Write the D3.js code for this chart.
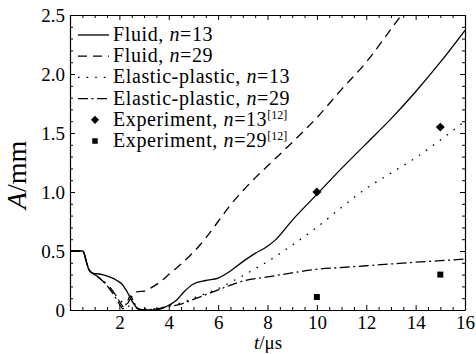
<!DOCTYPE html>
<html><head><meta charset="utf-8">
<script src="https://cdn.jsdelivr.net/npm/d3@7"></script>
<style>
body{margin:0;background:#fff}
svg{display:block}
</style></head>
<body><svg id="c" width="476" height="354"></svg>
<script>
// ---- data ----
const tFluid13 = [0,0.5,0.55,0.65,0.75,0.85,0.95,1.2,1.6,1.9,2.1,2.3,2.5,2.7,2.85,3.2,3.6,3.8,4.0,4.3,4.6,5.0,5.5,6.0,6.5,7.0,7.5,8.0,8.3,9,10,11,12,13,14,15,16];
const aFluid13 = [0.5,0.5,0.49,0.42,0.35,0.32,0.31,0.305,0.28,0.25,0.22,0.16,0.08,0.02,0.005,0,0.005,0.02,0.04,0.08,0.15,0.22,0.25,0.27,0.33,0.41,0.48,0.54,0.59,0.76,0.98,1.2,1.41,1.62,1.85,2.1,2.37];

const tFluid29 = [0,0.5,0.55,0.65,0.75,0.85,1.0,1.1,1.3,1.5,1.7,1.9,2.1,2.2,2.4,2.6,2.75,3.0,3.3,3.6,4.0,4.5,5.0,5.5,6.0,6.5,7.0,7.5,8,9,10,11,12,13,13.6];
const aFluid29 = [0.5,0.5,0.49,0.42,0.35,0.32,0.305,0.29,0.25,0.22,0.17,0.11,0.04,0.02,0.08,0.14,0.155,0.16,0.19,0.23,0.3,0.39,0.49,0.61,0.75,0.89,1.01,1.12,1.22,1.42,1.63,1.87,2.1,2.38,2.55];

const tEP13 = [0,0.5,0.55,0.65,0.75,0.85,1.0,1.2,1.4,1.6,1.8,2.0,2.2,2.4,2.6,3.0,3.5,4.0,4.5,5.0,5.5,6.0,6.5,7.0,7.5,8,9,10,11,12,13,14,15,16];
const aEP13 = [0.5,0.5,0.49,0.42,0.35,0.32,0.3,0.27,0.23,0.19,0.14,0.09,0.05,0.03,0.02,0.01,0.01,0.04,0.06,0.1,0.14,0.18,0.235,0.29,0.35,0.41,0.55,0.7,0.87,1.03,1.16,1.29,1.44,1.6];

const tEP29 = [0,0.5,0.55,0.65,0.75,0.85,1.0,1.2,1.4,1.6,1.8,2.0,2.15,2.3,2.45,2.6,2.75,3.0,3.5,4.0,4.5,5.0,5.5,6.0,6.5,7.0,8,9,10,11,12,13,14,15,16];
const aEP29 = [0.5,0.5,0.49,0.42,0.35,0.32,0.3,0.27,0.23,0.18,0.12,0.05,0.01,0.06,0.12,0.06,0.01,0,0.01,0.03,0.05,0.09,0.13,0.17,0.21,0.245,0.28,0.315,0.345,0.36,0.375,0.39,0.405,0.418,0.432];

const tExp = [10, 15];
const aExp13 = [1.0, 1.55];
const aExp29 = [0.11, 0.30];

const xTicks = [2,4,6,8,10,12,14,16];
const yTicks = [0,0.5,1.0,1.5,2.0,2.5];
const yTickLabels = ["0","0.5","1.0","1.5","2.0","2.5"];

const legendNames = ["Fluid, ","Fluid, ","Elastic-plastic, ","Elastic-plastic, ","Experiment, ","Experiment, "];
const legendN = ["13","29","13","29","13","29"];
const legendRef = ["","","","","[12]","[12]"];

// ---- drawing ----
const FONT = "'Liberation Serif','Times New Roman','DejaVu Serif',serif";
const svg = d3.select("#c");
const x = d3.scaleLinear().domain([0,16]).range([70,465]);
const y = d3.scaleLinear().domain([0,2.5]).range([310,15]);

svg.append("defs").append("clipPath").attr("id","clip")
  .append("rect").attr("x",70).attr("y",15).attr("width",395).attr("height",295);

function styleAxis(g){
  g.attr("font-family",null).attr("font-size",null);
  g.select(".domain").attr("stroke","#000").attr("stroke-width",1.2);
  g.selectAll(".tick line").attr("stroke","#000").attr("stroke-width",1);
  g.selectAll("text").style("font-family",FONT).style("font-size","19px").attr("fill","#000");
}
const xMinor = d3.range(0.5,16,0.5).filter(v=>v%2!==0);
const yMinor = d3.range(1,25).map(i=>i/10).filter(v=>Math.abs(v*2-Math.round(v*2))>1e-6);

// bottom
svg.append("g").attr("transform","translate(0,310)")
  .call(d3.axisBottom(x).tickValues(xTicks).tickFormat(d3.format("d")).tickSizeInner(-5).tickSizeOuter(0).tickPadding(6))
  .call(styleAxis);
svg.append("g").attr("transform","translate(0,310)")
  .call(d3.axisBottom(x).tickValues(xMinor).tickFormat("").tickSizeInner(-3).tickSizeOuter(0))
  .call(styleAxis).call(g=>g.select(".domain").remove());
// top
svg.append("g").attr("transform","translate(0,15)")
  .call(d3.axisTop(x).tickValues(xTicks).tickFormat("").tickSizeInner(-5).tickSizeOuter(0))
  .call(styleAxis);
svg.append("g").attr("transform","translate(0,15)")
  .call(d3.axisTop(x).tickValues(xMinor).tickFormat("").tickSizeInner(-3).tickSizeOuter(0))
  .call(styleAxis).call(g=>g.select(".domain").remove());
// left
svg.append("g").attr("transform","translate(70,0)")
  .call(d3.axisLeft(y).tickValues(yTicks).tickFormat((d,i)=>yTickLabels[i]).tickSizeInner(-5).tickSizeOuter(0).tickPadding(5))
  .call(styleAxis);
svg.append("g").attr("transform","translate(70,0)")
  .call(d3.axisLeft(y).tickValues(yMinor).tickFormat("").tickSizeInner(-3).tickSizeOuter(0))
  .call(styleAxis).call(g=>g.select(".domain").remove());
// right
svg.append("g").attr("transform","translate(465,0)")
  .call(d3.axisRight(y).tickValues(yTicks).tickFormat("").tickSizeInner(-5).tickSizeOuter(0))
  .call(styleAxis);
svg.append("g").attr("transform","translate(465,0)")
  .call(d3.axisRight(y).tickValues(yMinor).tickFormat("").tickSizeInner(-3).tickSizeOuter(0))
  .call(styleAxis).call(g=>g.select(".domain").remove());

// series
const series = [
  {t:tFluid13, a:aFluid13, dash:null},
  {t:tFluid29, a:aFluid29, dash:"9,6"},
  {t:tEP13, a:aEP13, dash:"1.6,7"},
  {t:tEP29, a:aEP29, dash:"10,3.5,2,3.5"}
];
const line = d3.line().x(d=>x(d[0])).y(d=>y(d[1])).curve(d3.curveMonotoneX);
const plot = svg.append("g").attr("clip-path","url(#clip)");
series.forEach(s=>{
  plot.append("path").datum(s.t.map((t,i)=>[t,s.a[i]]))
    .attr("d",line).attr("fill","none").attr("stroke","#000").attr("stroke-width",1.3)
    .attr("stroke-dasharray",s.dash);
});
svg.selectAll(".e13").data(tExp).join("path").attr("class","e13")
  .attr("transform",(d,i)=>`translate(${x(d)},${y(aExp13[i])}) rotate(45)`)
  .attr("d",d3.symbol().type(d3.symbolSquare).size(40)).attr("fill","#000");
svg.selectAll(".e29").data(tExp).join("path").attr("class","e29")
  .attr("transform",(d,i)=>`translate(${x(d)},${y(aExp29[i])})`)
  .attr("d",d3.symbol().type(d3.symbolSquare).size(36)).attr("fill","#000");

// legend
const leg = svg.append("g");
legendNames.forEach((name,i)=>{
  const cy = 35 + i*21.2;
  if(i<4){
    leg.append("line").attr("x1",78).attr("x2",109).attr("y1",cy).attr("y2",cy)
      .attr("stroke","#000").attr("stroke-width",1.3).attr("stroke-dasharray",series[i].dash);
  } else if(i===4){
    leg.append("path").attr("transform",`translate(95,${cy}) rotate(45)`)
      .attr("d",d3.symbol().type(d3.symbolSquare).size(34)).attr("fill","#000");
  } else {
    leg.append("path").attr("transform",`translate(95,${cy})`).attr("d",d3.symbol().type(d3.symbolSquare).size(30)).attr("fill","#000");
  }
  const tx = leg.append("text").attr("x",113).attr("y",cy+6)
    .style("font-family",FONT).style("font-size","20px").style("letter-spacing","0.6px");
  tx.append("tspan").text(name);
  tx.append("tspan").style("font-style","italic").text("n");
  tx.append("tspan").text("="+legendN[i]);
  if(legendRef[i]) tx.append("tspan").attr("dy",-7).style("font-size","12px").style("letter-spacing","0px").text(legendRef[i]);
});

// axis titles
const xl = svg.append("text").attr("x",268).attr("y",349).attr("text-anchor","middle")
  .style("font-family",FONT).style("font-size","19px");
xl.append("tspan").style("font-style","italic").text("t");
xl.append("tspan").text("/μs");
const yl = svg.append("text").attr("transform","translate(26,175) rotate(-90)").attr("text-anchor","middle")
  .style("font-family",FONT).style("font-size","28px");
yl.append("tspan").style("font-style","italic").text("A");
yl.append("tspan").text("/mm");
</script></body></html>
